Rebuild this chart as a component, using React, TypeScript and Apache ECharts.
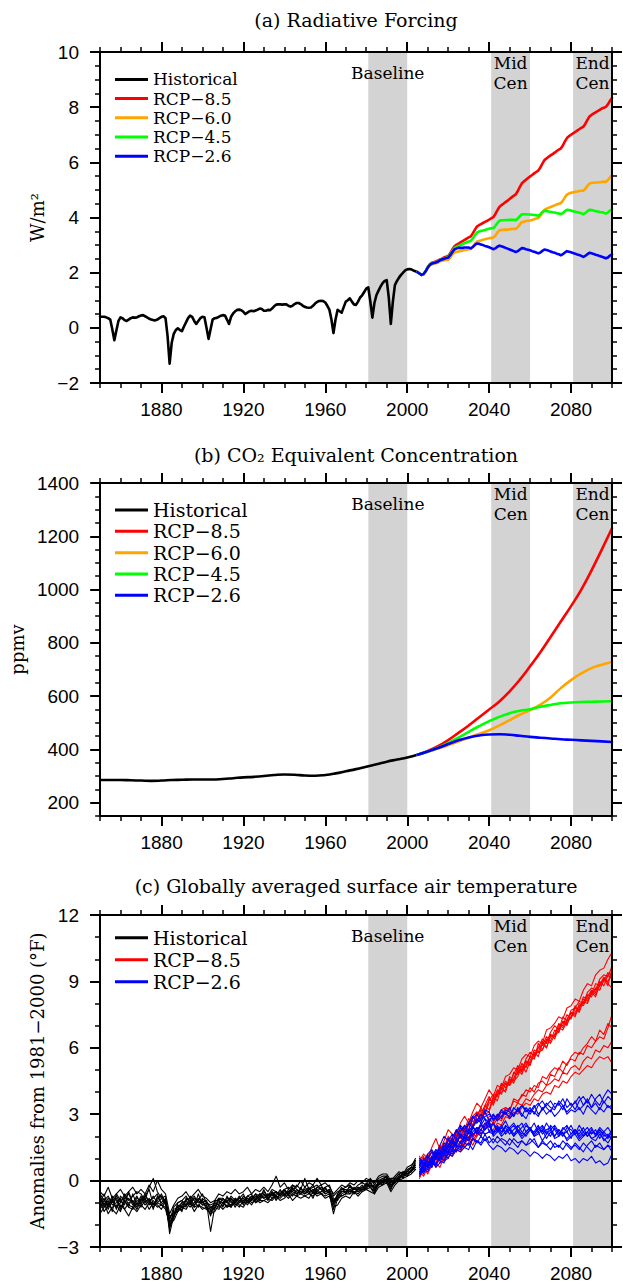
import React, { useEffect, useRef } from "react";
import * as echarts from "echarts";

const SERIF = '"DejaVu Serif", serif';
const SANS = '"Liberation Sans", Arial, sans-serif';
const BLACK = "#000000";
const RED = "#ff0000";
const ORANGE = "#ffa500";
const GREEN = "#00ff00";
const BLUE = "#0000ff";
const SHADE = "#d3d3d3";

// ---- shared axis values ----
const yearMin = 1850;
const yearMax = 2100;
const xMajorTicks = [1880, 1920, 1960, 2000, 2040, 2080];
const forcingYTicks = [-2, 0, 2, 4, 6, 8, 10];
const co2YTicks = [200, 400, 600, 800, 1000, 1200, 1400];
const tempYTicks = [-3, 0, 3, 6, 9, 12];

const periods = [
  { name: "Baseline", from: 1981, to: 2000 },
  { name: "Mid\nCen", from: 2041, to: 2060 },
  { name: "End\nCen", from: 2081, to: 2100 },
];

const scenarioNames = ["Historical", "RCP\u22128.5", "RCP\u22126.0", "RCP\u22124.5", "RCP\u22122.6"];

// ---- (a) radiative forcing, W/m2, annual ----
const forcingHistStart = 1850;
const forcingHist = [
  0.40, 0.40, 0.40, 0.38, 0.35, 0.30, -0.05, -0.45, -0.10, 0.25,
  0.38, 0.35, 0.28, 0.25, 0.30, 0.35, 0.38, 0.37, 0.38, 0.42,
  0.45, 0.46, 0.42, 0.38, 0.33, 0.30, 0.28, 0.27, 0.30, 0.35,
  0.40, 0.42, 0.35, -0.30, -1.30, -0.55, -0.22, -0.08, -0.02, -0.08,
  -0.12, 0.05, 0.20, 0.35, 0.44, 0.40, 0.25, 0.14, 0.25, 0.35,
  0.40, 0.38, 0.00, -0.40, -0.05, 0.30, 0.35, 0.36, 0.40, 0.44,
  0.46, 0.45, 0.30, 0.14, 0.40, 0.52, 0.60, 0.65, 0.66, 0.64,
  0.58, 0.50, 0.55, 0.60, 0.62, 0.60, 0.63, 0.66, 0.70, 0.68,
  0.62, 0.62, 0.65, 0.64, 0.70, 0.78, 0.84, 0.85, 0.85, 0.84,
  0.85, 0.85, 0.80, 0.77, 0.80, 0.86, 0.90, 0.90, 0.86, 0.80,
  0.76, 0.74, 0.73, 0.74, 0.80, 0.88, 0.94, 0.97, 0.98, 0.97,
  0.92, 0.80, 0.66, 0.30, -0.19, 0.30, 0.65, 0.60, 0.55, 0.75,
  0.95, 1.00, 1.07, 0.95, 0.85, 0.83, 0.95, 1.10, 1.18, 1.30,
  1.42, 1.47, 0.95, 0.37, 0.90, 1.19, 1.35, 1.50, 1.62, 1.70,
  1.73, 1.10, 0.14, 0.95, 1.55, 1.70, 1.82, 1.92, 2.00, 2.08,
  2.12, 2.13, 2.12, 2.08, 2.05, 2.02,
];

const forcingRcpStart = 2005;
const forcing85 = [
  2.02, 1.97, 1.92, 1.95, 2.05, 2.20, 2.30, 2.36, 2.38, 2.41,
  2.44, 2.48, 2.51, 2.55, 2.58, 2.60, 2.70, 2.84, 2.95, 3.01,
  3.05, 3.10, 3.14, 3.19, 3.23, 3.28, 3.31, 3.42, 3.55, 3.67,
  3.72, 3.76, 3.80, 3.84, 3.88, 3.92, 3.97, 4.01, 4.12, 4.26,
  4.38, 4.45, 4.50, 4.56, 4.61, 4.67, 4.73, 4.79, 4.84, 4.96,
  5.11, 5.24, 5.31, 5.37, 5.43, 5.49, 5.54, 5.60, 5.65, 5.70,
  5.81, 5.95, 6.08, 6.14, 6.20, 6.25, 6.30, 6.35, 6.41, 6.46,
  6.50, 6.61, 6.76, 6.88, 6.95, 7.00, 7.05, 7.10, 7.15, 7.20,
  7.25, 7.29, 7.40, 7.54, 7.66, 7.72, 7.77, 7.81, 7.86, 7.90,
  7.95, 7.98, 8.01, 8.10, 8.23, 8.33,
];
const forcing60 = [
  2.02, 1.97, 1.92, 1.94, 2.03, 2.16, 2.25, 2.30, 2.32, 2.34,
  2.36, 2.41, 2.43, 2.45, 2.46, 2.47, 2.54, 2.65, 2.73, 2.76,
  2.77, 2.79, 2.80, 2.82, 2.83, 2.85, 2.86, 2.93, 3.04, 3.12,
  3.15, 3.17, 3.19, 3.21, 3.23, 3.25, 3.26, 3.27, 3.34, 3.45,
  3.53, 3.55, 3.55, 3.56, 3.56, 3.57, 3.58, 3.59, 3.58, 3.65,
  3.75, 3.83, 3.85, 3.87, 3.88, 3.89, 3.91, 3.94, 3.96, 3.98,
  4.06, 4.18, 4.28, 4.32, 4.35, 4.38, 4.41, 4.44, 4.47, 4.50,
  4.52, 4.61, 4.73, 4.83, 4.87, 4.90, 4.91, 4.93, 4.94, 4.96,
  4.97, 4.97, 5.04, 5.15, 5.23, 5.25, 5.26, 5.27, 5.27, 5.28,
  5.29, 5.30, 5.29, 5.36, 5.45, 5.53,
];
const forcing45 = [
  2.02, 1.97, 1.92, 1.95, 2.05, 2.19, 2.29, 2.34, 2.36, 2.38,
  2.41, 2.46, 2.49, 2.51, 2.54, 2.56, 2.66, 2.78, 2.89, 2.93,
  2.97, 3.00, 3.03, 3.07, 3.10, 3.13, 3.15, 3.24, 3.35, 3.45,
  3.49, 3.51, 3.53, 3.55, 3.57, 3.59, 3.61, 3.61, 3.69, 3.79,
  3.88, 3.90, 3.90, 3.91, 3.91, 3.92, 3.92, 3.92, 3.90, 3.96,
  4.05, 4.12, 4.12, 4.12, 4.11, 4.11, 4.10, 4.09, 4.08, 4.06,
  4.11, 4.19, 4.24, 4.24, 4.22, 4.21, 4.19, 4.18, 4.16, 4.15,
  4.12, 4.16, 4.23, 4.28, 4.27, 4.25, 4.23, 4.21, 4.19, 4.17,
  4.15, 4.12, 4.16, 4.23, 4.28, 4.27, 4.25, 4.23, 4.22, 4.20,
  4.19, 4.17, 4.14, 4.18, 4.25, 4.30,
];
const forcing26 = [
  2.02, 1.97, 1.92, 1.95, 2.05, 2.18, 2.28, 2.33, 2.35, 2.37,
  2.40, 2.45, 2.48, 2.50, 2.53, 2.54, 2.63, 2.74, 2.84, 2.87,
  2.90, 2.90, 2.90, 2.91, 2.91, 2.91, 2.88, 2.93, 3.00, 3.06,
  3.05, 3.02, 3.00, 2.97, 2.95, 2.92, 2.89, 2.85, 2.88, 2.94,
  2.98, 2.96, 2.93, 2.90, 2.87, 2.84, 2.81, 2.78, 2.75, 2.78,
  2.84, 2.89, 2.88, 2.85, 2.83, 2.81, 2.78, 2.76, 2.73, 2.70,
  2.73, 2.79, 2.84, 2.82, 2.80, 2.77, 2.74, 2.72, 2.69, 2.67,
  2.63, 2.67, 2.73, 2.78, 2.76, 2.74, 2.71, 2.69, 2.66, 2.64,
  2.61, 2.57, 2.61, 2.67, 2.72, 2.70, 2.68, 2.65, 2.63, 2.60,
  2.58, 2.55, 2.52, 2.55, 2.62, 2.66,
];

// ---- (b) CO2 equivalent concentration, ppmv, every 5 years ----
const co2HistStart = 1850;
const co2Hist = [
  285, 285, 285, 284, 283, 282, 283, 285, 286, 287, 287, 287, 289, 292, 295, 297,
  300, 304, 306, 305, 302, 301, 304, 310, 318, 326, 335, 344, 354, 362, 370, 380,
];
const co2RcpStart = 2005;
const co2Rcp85 = [380, 394, 412, 435, 462, 490, 520, 550, 580, 618, 662, 712, 765, 822, 880, 938, 1000, 1072, 1150, 1230];
const co2Rcp60 = [380, 391, 403, 416, 430, 444, 458, 472, 490, 510, 530, 548, 568, 595, 630, 660, 685, 705, 718, 728];
const co2Rcp45 = [380, 392, 406, 424, 444, 466, 487, 506, 522, 536, 545, 551, 560, 567, 573, 576, 578, 579, 580, 581];
const co2Rcp26 = [380, 392, 405, 420, 434, 445, 452, 456, 457, 455, 451, 447, 444, 441, 438, 436, 434, 432, 430, 428];

// ---- (c) surface air temperature anomalies (degF), ensemble members, every 2 years ----
const tempHistStart = 1850;
const tempRcpStart = 2006;
const tempStep = 2;

const tempHist = [
  [-0.8, -1.2, -0.9, -1.4, -0.6, -0.9, -1.1, -0.5, -1.0, -0.7, -1.1, -0.7, -0.4, -1.1, -0.9, -0.6, -1.0, -2.2, -1.3, -1.2,
   -1.4, -0.8, -0.9, -1.2, -0.6, -1.1, -1.1, -1.6, -0.9, -0.9, -1.2, -0.7, -1.0, -1.0, -0.7, -1.1, -0.7, -0.6, -1.0, -0.8,
   -0.4, -0.8, -0.5, -0.9, -0.6, -0.4, -0.7, -0.2, -0.4, -0.6, -0.3, -0.5, -0.8, -0.3, -0.2, -0.6, -0.5, -1.3, -0.6, -0.3,
   -0.6, -0.2, -0.6, -0.4, -0.2, -0.4, 0.0, -0.5, 0.0, 0.0, -0.1, 0.1, 0.1, 0.0, 0.4, 0.3, 0.4, 0.9],
  [-1.3, -1.0, -1.5, -1.2, -1.1, -1.4, -0.9, -1.2, -1.3, -1.0, -1.2, -0.9, -1.3, -1.0, -1.2, -1.1, -1.3, -2.0, -1.8, -1.4,
   -1.2, -1.3, -1.0, -1.4, -1.1, -1.2, -1.3, -1.5, -1.4, -1.1, -1.3, -1.1, -1.2, -0.9, -1.1, -1.2, -0.9, -1.1, -0.8, -1.0,
   -0.9, -1.0, -0.8, -0.7, -0.9, -0.8, -0.6, -0.9, -0.7, -0.8, -0.7, -0.8, -0.5, -0.7, -0.6, -0.8, -0.7, -1.2, -1.1, -0.8,
   -0.7, -0.8, -0.5, -0.7, -0.5, -0.4, -0.5, -0.6, -0.3, -0.2, -0.1, -0.5, -0.2, 0.0, 0.1, 0.2, 0.3, 0.5],
  [-0.5, -0.7, -0.3, -0.8, -0.6, -0.4, -0.7, -0.5, -0.3, -0.6, -0.4, -0.6, -0.2, -0.5, 0.0, -0.4, -0.6, -1.5, -1.1, -0.8,
   -0.7, -0.5, -0.8, -0.6, -0.4, -0.7, -0.8, -1.0, -0.9, -0.6, -0.7, -0.5, -0.6, -0.4, -0.6, -0.5, -0.3, -0.6, -0.4, -0.5,
   -0.3, -0.5, -0.2, 0.2, -0.3, -0.1, -0.4, -0.2, -0.3, 0.0, -0.3, -0.1, -0.2, 0.1, -0.2, -0.1, -0.3, -0.6, -0.4, -0.2,
   -0.3, -0.1, -0.2, 0.0, -0.1, 0.1, 0.0, -0.1, 0.2, 0.3, 0.3, 0.0, 0.2, 0.4, 0.3, 0.6, 0.7, 0.9],
  [-1.0, -0.6, -1.2, -0.8, -1.3, -0.7, -0.9, -1.2, -0.6, -1.1, -0.7, -1.0, -0.8, -1.3, -0.7, -1.0, -0.8, -2.4, -1.6, -1.0,
   -0.9, -1.2, -0.7, -0.9, -1.2, -0.8, -1.0, -1.2, -1.3, -0.8, -0.9, -1.2, -0.8, -1.0, -0.8, -0.6, -1.0, -0.9, -0.6, -0.9,
   -0.6, -0.9, -0.5, -0.7, -0.4, -0.7, -0.4, -0.6, -0.7, -0.3, -0.6, -0.4, -0.2, -0.6, -0.5, -0.3, -0.6, -1.5, -0.8, -0.5,
   -0.4, -0.6, -0.3, -0.5, -0.4, -0.1, -0.3, -0.2, -0.2, 0.1, 0.2, -0.3, 0.1, 0.3, 0.1, 0.5, 0.6, 0.5],
  [-0.7, -1.1, -0.8, -1.0, -0.8, -1.2, -1.0, -0.8, -1.1, -0.8, -0.9, -0.6, -1.0, -0.7, -1.0, -0.8, -1.1, -1.7, -1.4, -1.3,
   -1.0, -0.9, -1.1, -0.8, -1.0, -0.9, -1.2, -1.3, -1.0, -1.1, -0.8, -1.0, -1.1, -0.8, -1.0, -0.7, -0.9, -0.7, -0.9, -0.6,
   -0.8, -0.6, -0.7, -0.5, -0.7, -0.5, -0.6, -0.4, -0.5, -0.6, -0.4, -0.6, -0.4, -0.5, -0.3, -0.5, -0.4, -0.8, -0.9, -0.6,
   -0.5, -0.4, -0.6, -0.3, -0.4, -0.3, -0.1, -0.4, -0.1, -0.1, 0.1, -0.1, -0.1, 0.2, 0.3, 0.3, 0.5, 0.7],
  [-1.2, -0.9, -0.7, -1.1, -1.0, -0.8, -1.3, -1.0, -0.9, -1.2, -0.8, -1.1, -0.9, -0.8, -0.6, -1.1, -0.9, -2.1, -1.7, -1.1,
   -1.2, -0.9, -0.8, -1.1, -0.9, -1.1, -1.0, -2.3, -1.2, -1.0, -1.0, -0.9, -1.2, -0.8, -0.9, -1.0, -0.8, -0.9, -0.7, -0.8,
   -0.7, -0.6, -0.8, -0.6, -0.5, -0.6, -0.5, -0.7, -0.4, -0.5, -0.6, -0.5, -0.4, -0.6, -0.5, -0.4, -0.5, -1.0, -0.6, -0.7,
   -0.6, -0.4, -0.5, -0.5, -0.3, -0.2, -0.3, -0.6, 0.0, 0.1, 0.0, -0.4, 0.0, 0.1, 0.3, 0.4, 0.6, 0.6],
  [-0.9, -1.4, -1.1, -0.9, -1.2, -1.0, -0.7, -1.1, -1.2, -0.9, -1.0, -0.8, -1.1, -0.9, -1.1, -1.3, -0.9, -1.9, -1.5, -1.4,
   -1.1, -1.0, -1.2, -1.0, -0.8, -1.0, -0.9, -1.4, -1.1, -1.2, -1.1, -0.9, -0.8, -1.1, -1.0, -0.9, -0.8, -1.0, -0.9, -0.7,
   -0.8, -0.7, -0.6, -0.8, -0.6, -0.7, -0.5, -0.5, -0.6, -0.4, -0.5, -0.3, -0.6, -0.4, -0.6, -0.5, -0.4, -1.1, -0.7, -0.4,
   -0.4, -0.5, -0.4, -0.3, -0.5, -0.2, -0.2, -0.3, -0.2, 0.0, 0.2, -0.2, 0.0, 0.2, 0.2, 0.4, 0.4, 0.8],
  [-1.0, -0.8, -1.3, -0.9, -0.7, -1.0, -0.6, -0.9, -0.7, -0.5, -0.6, -0.9, -0.3, 0.1, -0.5, -0.8, -0.7, -1.8, -1.2, -1.0,
   -0.9, -0.7, -1.0, -0.8, -0.9, -0.6, -1.0, -1.1, -1.0, -0.8, -0.8, -1.0, -0.7, -0.9, -0.8, -0.9, -0.7, -0.8, -0.6, -0.7,
   -0.5, -0.7, -0.4, -0.5, -0.6, -0.4, -0.3, -0.5, -0.2, -0.4, 0.1, -0.4, -0.3, -0.2, -0.4, -0.3, -0.2, -0.7, -0.5, -0.4,
   -0.3, -0.2, -0.4, -0.2, -0.1, -0.2, 0.1, -0.2, 0.1, 0.2, 0.2, -0.1, 0.1, 0.3, 0.4, 0.4, 0.6, 1.0],
  [-1.5, -1.2, -1.0, -1.3, -1.5, -1.1, -1.3, -1.6, -1.2, -1.4, -1.1, -1.3, -1.0, -1.2, -1.0, -1.1, -1.2, -2.0, -1.6, -1.3,
   -1.3, -1.1, -1.0, -1.2, -1.1, -1.3, -1.2, -1.5, -1.2, -1.3, -1.0, -1.2, -1.1, -1.0, -1.2, -0.9, -1.1, -0.8, -1.0, -0.9,
   -0.9, -0.8, -0.9, -0.7, -0.8, -0.6, -0.8, -0.6, -0.7, -0.6, -0.7, -0.6, -0.7, -0.5, -0.6, -0.7, -0.6, -1.0, -0.8, -0.7,
   -0.6, -0.6, -0.5, -0.6, -0.4, -0.4, -0.3, -0.5, -0.2, -0.1, 0.0, -0.3, -0.1, 0.1, 0.2, 0.3, 0.4, 0.6],
  [-0.6, -0.9, -1.1, -0.7, -0.9, -1.3, -0.8, -0.6, -1.0, -1.3, -0.9, -0.7, -0.9, -1.1, -0.8, -0.7, -1.0, -1.6, -1.5, -1.2,
   -1.0, -1.1, -0.9, -0.7, -1.0, -0.9, -1.3, -1.2, -1.1, -0.9, -1.0, -0.8, -0.9, -1.2, -0.9, -0.8, -1.0, -0.7, -0.8, -0.6,
   -0.6, -0.8, -0.6, -0.5, -0.7, -0.4, -0.6, -0.3, -0.6, -0.5, -0.6, -0.4, -0.5, -0.3, -0.4, -0.6, -0.5, -0.9, -0.7, -0.5,
   -0.5, -0.3, -0.4, -0.4, -0.3, -0.3, -0.2, -0.3, -0.1, -0.2, 0.1, -0.2, -0.1, 0.1, 0.3, 0.2, 0.5, 0.7],
];

const tempRcp85 = [
  [0.9, 1.2, 1.0, 1.5, 1.9, 1.4, 1.8, 2.3, 2.1, 2.0, 2.6, 2.9, 2.6, 3.1, 3.5, 3.3, 3.7, 4.1,
   3.8, 4.3, 4.2, 4.7, 4.8, 5.1, 5.0, 5.5, 5.7, 5.6, 6.1, 6.3, 6.2, 6.8, 6.9, 7.1, 7.4, 7.3, 7.8, 7.9, 8.2, 8.1, 8.6, 8.9, 8.8, 9.3, 9.5, 9.6, 10.0, 10.3],
  [0.3, 0.5, 1.1, 1.0, 0.8, 1.3, 1.7, 1.5, 1.4, 2.0, 2.3, 2.1, 2.6, 2.9, 2.7, 3.0, 3.4, 3.2,
   3.8, 3.6, 4.2, 4.0, 4.6, 4.4, 5.0, 4.8, 5.4, 5.2, 5.8, 5.6, 6.2, 6.0, 6.6, 6.4, 6.9, 6.8, 7.2, 7.4, 7.6, 7.9, 8.0, 8.4, 8.3, 8.7, 8.6, 9.1, 9.0, 9.4],
  [1.1, 0.7, 0.9, 1.3, 1.2, 1.0, 1.6, 1.5, 2.0, 2.2, 1.9, 2.3, 2.8, 2.5, 3.0, 3.2, 3.0, 3.7,
   3.5, 4.0, 4.1, 4.5, 4.3, 4.9, 4.8, 5.3, 5.1, 5.6, 5.5, 6.0, 6.1, 6.5, 6.3, 6.8, 6.7, 7.2, 7.0, 7.6, 7.5, 7.8, 8.2, 8.1, 8.6, 8.5, 9.0, 8.8, 9.3, 9.1],
  [0.2, 0.6, 0.9, 0.7, 1.2, 1.6, 1.3, 1.7, 1.6, 2.2, 2.0, 2.4, 2.3, 2.9, 3.1, 2.8, 3.3, 3.6,
   3.9, 3.8, 4.3, 4.4, 4.4, 4.8, 5.2, 5.0, 5.5, 5.8, 5.6, 6.0, 6.4, 6.2, 6.7, 7.0, 6.8, 7.4, 7.2, 7.7, 7.8, 8.1, 8.0, 8.5, 8.7, 8.6, 9.1, 9.3, 9.2, 9.7],
  [0.8, 1.1, 0.6, 0.9, 1.4, 1.2, 1.5, 2.0, 1.8, 1.7, 2.4, 2.2, 2.5, 2.7, 2.6, 3.2, 3.0, 3.1,
   3.7, 3.9, 4.0, 4.1, 4.7, 4.5, 4.7, 5.2, 4.9, 5.4, 5.9, 5.8, 5.9, 6.3, 6.6, 6.5, 7.0, 7.0, 7.5, 7.3, 7.8, 7.7, 8.3, 8.2, 8.4, 8.9, 8.8, 9.0, 9.4, 9.2],
  [0.5, 0.4, 0.9, 1.3, 1.0, 1.5, 1.4, 1.3, 1.9, 2.3, 2.1, 1.9, 2.6, 2.5, 3.1, 2.9, 3.4, 3.8,
   3.4, 3.9, 4.4, 4.2, 4.5, 4.6, 5.1, 4.9, 5.2, 5.6, 5.5, 6.2, 5.9, 6.4, 6.2, 6.6, 7.1, 6.9, 7.3, 7.6, 7.4, 8.0, 7.9, 8.3, 8.6, 8.4, 8.8, 9.2, 8.9, 8.7],
  [0.6, 0.9, 1.2, 0.8, 1.1, 1.5, 1.3, 1.9, 1.7, 2.1, 2.0, 2.5, 2.3, 2.4, 2.9, 3.3, 3.0, 3.5,
   3.6, 4.1, 3.9, 4.4, 4.3, 4.6, 4.9, 5.0, 5.4, 5.3, 5.7, 5.8, 6.3, 6.0, 6.5, 6.6, 6.7, 7.2, 7.1, 7.4, 7.9, 7.6, 8.1, 8.0, 8.5, 8.3, 8.9, 9.1, 8.8, 9.6],
  [0.4, 0.2, 0.6, 0.9, 0.6, 1.1, 0.9, 1.0, 1.5, 1.3, 1.7, 1.6, 2.0, 1.8, 2.1, 2.5, 2.3, 2.8,
   2.6, 3.0, 2.9, 3.3, 3.2, 3.6, 3.5, 3.9, 3.8, 4.2, 4.0, 4.4, 4.5, 4.3, 4.8, 4.7, 5.1, 4.9, 5.3, 5.5, 5.4, 5.8, 5.7, 6.1, 6.0, 6.3, 6.5, 6.4, 6.9, 7.5],
  [0.1, 0.5, 0.4, 0.7, 1.0, 0.8, 0.9, 1.4, 1.2, 1.5, 1.8, 1.5, 1.7, 2.1, 2.0, 2.3, 2.6, 2.6,
   2.5, 2.8, 2.7, 3.1, 3.0, 3.2, 3.5, 3.4, 3.7, 3.6, 3.9, 4.1, 4.0, 4.3, 4.4, 4.6, 4.5, 4.9, 4.8, 5.1, 5.2, 5.0, 5.4, 5.6, 5.5, 5.9, 5.8, 6.1, 6.0, 6.3],
  [0.7, 0.5, 0.8, 0.6, 1.1, 1.3, 1.0, 1.2, 1.6, 1.5, 1.4, 1.9, 2.2, 1.9, 2.3, 2.5, 2.4, 2.9,
   2.9, 2.7, 3.2, 3.3, 3.1, 3.7, 3.6, 3.8, 4.1, 4.0, 4.3, 4.2, 4.7, 4.6, 4.9, 5.1, 5.0, 5.4, 5.2, 5.6, 5.8, 5.7, 6.0, 6.2, 6.5, 6.3, 6.8, 6.6, 7.1, 6.9],
  [0.4, 0.6, 0.3, 0.7, 0.8, 0.6, 1.1, 1.3, 1.1, 1.4, 1.3, 1.7, 1.9, 1.6, 2.0, 2.2, 2.1, 2.2,
   2.3, 2.6, 2.5, 2.9, 2.8, 3.1, 3.0, 3.3, 3.5, 3.4, 3.7, 3.6, 3.9, 4.0, 3.9, 4.3, 4.2, 4.5, 4.4, 4.7, 4.9, 4.8, 5.0, 5.2, 5.1, 5.4, 5.6, 5.5, 5.6, 5.3],
];

const tempRcp26 = [
  [1.0, 0.7, 1.2, 1.4, 1.1, 1.6, 2.0, 1.8, 1.7, 2.2, 2.5, 2.3, 2.6, 2.9, 2.6, 2.8, 3.1, 2.7,
   3.0, 2.8, 3.1, 3.0, 2.9, 3.3, 3.1, 3.4, 3.2, 3.0, 3.3, 3.5, 3.2, 3.4, 3.6, 3.3, 3.5, 3.2, 3.7, 3.4, 3.5, 3.8, 3.4, 3.6, 3.3, 3.7, 3.9, 3.5, 3.8, 3.6],
  [0.3, 0.8, 0.6, 1.1, 1.4, 1.2, 1.3, 1.8, 2.1, 1.9, 2.4, 2.2, 2.3, 2.8, 3.0, 2.7, 2.9, 3.0,
   2.8, 2.9, 3.2, 3.0, 3.3, 2.9, 3.2, 3.4, 3.1, 3.3, 3.0, 3.4, 3.6, 3.3, 3.1, 3.5, 3.4, 3.7, 3.3, 3.5, 3.2, 3.6, 3.8, 3.5, 3.9, 3.6, 3.4, 3.8, 4.1, 3.9],
  [0.7, 0.9, 1.1, 0.8, 1.3, 1.2, 1.7, 1.5, 1.9, 2.3, 2.0, 2.1, 2.6, 2.4, 2.7, 3.0, 2.8, 2.6,
   3.0, 2.7, 2.9, 3.1, 2.8, 3.0, 3.2, 2.9, 3.3, 3.1, 3.4, 3.0, 3.2, 3.5, 3.3, 3.2, 3.6, 3.4, 3.1, 3.3, 3.6, 3.2, 3.4, 3.7, 3.3, 3.5, 3.2, 3.6, 3.3, 3.4],
  [0.9, 0.6, 1.0, 1.3, 1.0, 1.5, 1.4, 1.9, 1.7, 1.6, 2.2, 2.5, 2.1, 2.4, 2.8, 2.6, 3.2, 3.1,
   2.7, 3.0, 2.8, 3.2, 3.1, 2.9, 3.3, 3.0, 2.8, 3.2, 3.1, 2.9, 3.3, 3.0, 3.2, 2.9, 3.1, 3.4, 3.0, 3.2, 3.1, 3.3, 3.0, 3.4, 3.2, 3.0, 3.3, 3.1, 3.4, 3.2],
  [0.4, 0.7, 0.9, 0.6, 1.1, 1.4, 1.2, 1.6, 1.5, 1.9, 1.7, 2.0, 2.3, 2.1, 2.2, 2.6, 2.3, 2.5,
   2.2, 2.4, 2.1, 2.5, 2.3, 2.0, 2.4, 2.6, 2.2, 2.4, 2.1, 2.3, 2.5, 2.2, 2.0, 2.4, 2.1, 2.3, 2.5, 2.1, 2.3, 2.0, 2.2, 2.4, 2.1, 2.3, 1.9, 2.2, 2.4, 2.1],
  [0.8, 0.5, 0.7, 1.0, 1.2, 0.9, 1.4, 1.3, 1.8, 1.6, 2.1, 1.9, 1.8, 2.4, 2.2, 2.5, 2.8, 2.2,
   2.6, 2.3, 2.5, 2.2, 2.4, 2.6, 2.3, 2.1, 2.5, 2.3, 2.6, 2.2, 2.4, 2.1, 2.5, 2.3, 2.0, 2.4, 2.2, 2.5, 2.1, 2.3, 2.0, 2.2, 2.4, 2.0, 2.3, 2.1, 1.9, 2.2],
  [0.2, 0.5, 0.8, 1.0, 0.7, 1.2, 1.1, 1.5, 1.4, 1.7, 2.0, 1.8, 2.2, 2.0, 2.4, 2.3, 2.1, 2.2,
   2.1, 2.5, 2.2, 2.4, 2.1, 2.3, 2.5, 2.2, 2.0, 2.3, 2.2, 2.5, 2.1, 2.3, 2.4, 2.0, 2.3, 2.1, 2.2, 1.9, 2.3, 2.1, 2.4, 2.0, 2.2, 2.1, 2.3, 2.0, 2.1, 1.9],
  [0.7, 1.0, 0.6, 0.9, 1.3, 1.1, 1.6, 1.4, 1.3, 1.8, 2.0, 1.7, 2.2, 2.5, 2.1, 2.3, 2.6, 2.4,
   2.6, 2.2, 2.4, 2.7, 2.3, 2.5, 2.2, 2.4, 2.6, 2.3, 2.1, 2.4, 2.2, 2.6, 2.3, 2.5, 2.2, 2.0, 2.4, 2.3, 2.1, 2.5, 2.2, 2.0, 2.3, 2.1, 2.4, 2.2, 2.0, 2.3],
  [1.0, 0.8, 0.6, 1.1, 1.0, 1.3, 1.2, 1.6, 1.9, 1.5, 1.7, 2.1, 1.9, 2.4, 2.2, 2.0, 2.5, 2.7,
   2.1, 2.3, 2.0, 2.2, 2.4, 2.1, 2.3, 2.0, 2.2, 2.4, 2.0, 2.1, 2.3, 1.9, 2.2, 2.0, 2.3, 2.1, 1.9, 2.1, 2.3, 1.9, 2.1, 2.2, 1.9, 2.0, 2.2, 1.8, 2.0, 1.9],
  [0.6, 0.3, 0.8, 0.7, 1.1, 1.0, 1.4, 1.2, 1.7, 1.6, 1.5, 2.0, 1.8, 2.2, 2.4, 2.1, 2.3, 2.6,
   2.0, 2.2, 2.4, 2.1, 2.3, 2.0, 2.2, 1.9, 2.1, 2.3, 2.0, 2.2, 1.8, 2.1, 2.3, 1.9, 2.0, 2.2, 1.8, 2.0, 2.1, 1.8, 2.0, 2.2, 1.9, 1.8, 2.1, 1.9, 1.7, 2.0],
  [0.7, 0.5, 0.4, 0.8, 0.7, 1.1, 0.9, 1.3, 1.2, 1.5, 1.4, 1.7, 1.6, 1.9, 1.8, 1.7, 2.1, 1.7,
   1.9, 1.7, 1.9, 1.8, 1.6, 1.9, 1.7, 1.8, 1.6, 1.7, 1.9, 1.5, 1.7, 1.6, 1.8, 1.5, 1.6, 1.4, 1.7, 1.5, 1.6, 1.4, 1.7, 1.5, 1.3, 1.6, 1.5, 1.4, 1.6, 1.3],
  [0.3, 0.6, 0.5, 0.9, 0.6, 0.8, 1.2, 1.0, 1.4, 1.3, 1.6, 1.5, 1.4, 1.9, 1.7, 2.0, 1.8, 2.0,
   1.7, 2.0, 1.8, 1.6, 1.9, 1.7, 1.5, 1.8, 1.6, 1.9, 1.7, 1.5, 1.8, 1.6, 1.4, 1.7, 1.5, 1.8, 1.6, 1.4, 1.7, 1.5, 1.3, 1.6, 1.8, 1.5, 1.7, 1.4, 1.6, 1.5],
  [0.6, 0.4, 0.8, 0.6, 1.0, 0.9, 0.8, 1.2, 1.1, 1.4, 1.3, 1.5, 1.7, 1.4, 1.8, 1.6, 1.9, 1.6,
   1.4, 1.6, 1.5, 1.3, 1.5, 1.4, 1.2, 1.4, 1.3, 1.1, 1.3, 1.2, 1.0, 1.2, 1.1, 0.9, 1.1, 1.0, 1.2, 0.9, 1.0, 0.8, 1.0, 0.9, 1.1, 0.8, 0.9, 0.7, 0.8, 1.2],
];

// ---- layout ----
const grids = [
  { left: 100, top: 52, width: 512, height: 331 },
  { left: 100, top: 483, width: 512, height: 333 },
  { left: 100, top: 915, width: 512, height: 332 },
];

const panelTitles = [
  { text: "(a) Radiative Forcing", y: 20 },
  { text: "(b) CO\u2082 Equivalent Concentration", y: 455 },
  { text: "(c) Globally averaged surface air temperature", y: 886 },
];

const minusFmt = (v: number) => (v < 0 ? "\u2212" + Math.abs(v) : String(v));
const yearFmt = (v: number) => String(v);

const toPairs = (start: number, step: number, vals: number[]) =>
  vals.map((v, i) => [start + i * step, v]);

function xAxesFor(g: number) {
  const base = {
    type: "value",
    gridIndex: g,
    min: yearMin,
    max: yearMax,
    z: 10,
    splitLine: { show: false },
  };
  const major = (position: string, labels: boolean) => ({
    ...base,
    position,
    axisLine: { show: true, onZero: false, lineStyle: { color: BLACK, width: 2 } },
    axisTick: { show: true, customValues: xMajorTicks, length: 10, lineStyle: { color: BLACK, width: 2 } },
    axisLabel: labels
      ? { show: true, customValues: xMajorTicks, margin: 17, color: BLACK, fontFamily: SANS, fontSize: 19, formatter: yearFmt }
      : { show: false },
  });
  const minor = (position: string) => ({
    ...base,
    position,
    interval: 10,
    axisLine: { show: false, onZero: false },
    axisTick: { show: true, length: 5, lineStyle: { color: BLACK, width: 1.5 } },
    axisLabel: { show: false },
  });
  return [major("bottom", true), minor("bottom"), major("top", false), minor("top")];
}

function yAxesFor(
  g: number,
  min: number,
  max: number,
  majors: number[],
  minorStep: number,
  name: string,
  nameGap: number
) {
  const base = { type: "value", gridIndex: g, min, max, z: 10, splitLine: { show: false } };
  const major = (position: string, labels: boolean) => ({
    ...base,
    position,
    name: labels ? name : "",
    nameLocation: "middle",
    nameRotate: 90,
    nameGap,
    nameTextStyle: { fontFamily: SERIF, fontSize: 18, color: BLACK },
    axisLine: { show: true, onZero: false, lineStyle: { color: BLACK, width: 2 } },
    axisTick: { show: true, customValues: majors, length: 10, lineStyle: { color: BLACK, width: 2 } },
    axisLabel: labels
      ? { show: true, customValues: majors, margin: 21, color: BLACK, fontFamily: SANS, fontSize: 19, formatter: minusFmt }
      : { show: false },
  });
  const minor = (position: string) => ({
    ...base,
    position,
    interval: minorStep,
    axisLine: { show: false, onZero: false },
    axisTick: { show: true, length: 5, lineStyle: { color: BLACK, width: 1.5 } },
    axisLabel: { show: false },
  });
  return [major("left", true), minor("left"), major("right", false), minor("right")];
}

function line(name: string, color: string, width: number, g: number, data: number[][], smooth = false, z = 3) {
  return {
    type: "line",
    name,
    xAxisIndex: g * 4,
    yAxisIndex: g * 4,
    data,
    z,
    smooth,
    showSymbol: false,
    symbol: "none",
    silent: true,
    itemStyle: { color },
    lineStyle: { color, width, cap: "round", join: "round" },
  };
}

function shadeSeries(g: number) {
  return {
    type: "line",
    xAxisIndex: g * 4,
    yAxisIndex: g * 4,
    data: [],
    z: 1,
    silent: true,
    markArea: {
      silent: true,
      itemStyle: { color: SHADE },
      label: {
        show: true,
        position: ["50%", 20.5],
        align: "center",
        verticalAlign: "middle",
        color: BLACK,
        fontFamily: SERIF,
        fontSize: 17,
        lineHeight: 20,
      },
      data: periods.map((p) => [{ name: p.name, xAxis: p.from }, { xAxis: p.to }]),
    },
  };
}

function legendFor(names: string[], top: number, rowHeight: number, fontSize: number) {
  return {
    data: names,
    orient: "vertical",
    left: 115,
    top,
    padding: 0,
    icon: "rect",
    itemWidth: 33,
    itemHeight: 3,
    itemGap: 0,
    selectedMode: false,
    textStyle: { fontFamily: SERIF, fontSize, lineHeight: rowHeight, color: BLACK },
  };
}

function buildOption() {
  const series: any[] = [];
  [0, 1, 2].forEach((g) => series.push(shadeSeries(g)));

  // (a)
  series.push(line(scenarioNames[0], BLACK, 2.6, 0, toPairs(forcingHistStart, 1, forcingHist)));
  series.push(line(scenarioNames[1], RED, 2.6, 0, toPairs(forcingRcpStart, 1, forcing85)));
  series.push(line(scenarioNames[2], ORANGE, 2.6, 0, toPairs(forcingRcpStart, 1, forcing60)));
  series.push(line(scenarioNames[3], GREEN, 2.6, 0, toPairs(forcingRcpStart, 1, forcing45)));
  series.push(line(scenarioNames[4], BLUE, 2.6, 0, toPairs(forcingRcpStart, 1, forcing26)));

  // (b)
  series.push(line(scenarioNames[0], BLACK, 2.6, 1, toPairs(co2HistStart, 5, co2Hist), true));
  series.push(line(scenarioNames[1], RED, 2.6, 1, toPairs(co2RcpStart, 5, co2Rcp85), true));
  series.push(line(scenarioNames[2], ORANGE, 2.6, 1, toPairs(co2RcpStart, 5, co2Rcp60), true));
  series.push(line(scenarioNames[3], GREEN, 2.6, 1, toPairs(co2RcpStart, 5, co2Rcp45), true));
  series.push(line(scenarioNames[4], BLUE, 2.6, 1, toPairs(co2RcpStart, 5, co2Rcp26), true));

  // (c)
  tempHist.forEach((m) => series.push(line(scenarioNames[0], BLACK, 1.1, 2, toPairs(tempHistStart, tempStep, m))));
  tempRcp85.forEach((m) => series.push(line(scenarioNames[1], RED, 1.1, 2, toPairs(tempRcpStart, tempStep, m))));
  tempRcp26.forEach((m) => series.push(line(scenarioNames[4], BLUE, 1.1, 2, toPairs(tempRcpStart, tempStep, m))));

  // zero reference line in (c)
  series.push({
    type: "line",
    xAxisIndex: 8,
    yAxisIndex: 8,
    data: [],
    z: 6,
    silent: true,
    markLine: {
      silent: true,
      symbol: ["none", "none"],
      label: { show: false },
      lineStyle: { color: BLACK, width: 2, type: "solid" },
      data: [{ yAxis: 0 }],
    },
  });

  return {
    animation: false,
    backgroundColor: "#ffffff",
    grid: grids,
    xAxis: [...xAxesFor(0), ...xAxesFor(1), ...xAxesFor(2)],
    yAxis: [
      ...yAxesFor(0, -2, 10, forcingYTicks, 0.5, "W/m\u00b2", 54),
      ...yAxesFor(1, 150, 1400, co2YTicks, 50, "ppmv", 57),
      ...yAxesFor(2, -3, 12, tempYTicks, 1, "Anomalies from 1981\u22122000 (\u00b0F)", 53),
    ],
    legend: [
      legendFor(scenarioNames, 69.8, 19.2, 17),
      legendFor(scenarioNames, 499.4, 21.3, 19),
      legendFor([scenarioNames[0], scenarioNames[1], scenarioNames[4]], 926.7, 22, 19),
    ],
    graphic: panelTitles.map((t) => ({
      type: "text",
      x: 356,
      y: t.y,
      style: {
        text: t.text,
        fill: BLACK,
        font: `19px ${SERIF}`,
        align: "center",
        verticalAlign: "middle",
      },
    })),
    series,
  };
}

export default function App() {
  const ref = useRef<HTMLDivElement>(null);
  useEffect(() => {
    document.body.style.margin = "0";
    const chart = echarts.init(ref.current as HTMLDivElement, null, { renderer: "svg" });
    chart.setOption(buildOption() as any);
    return () => chart.dispose();
  }, []);
  return <div ref={ref} style={{ width: 623, height: 1285 }} />;
}
